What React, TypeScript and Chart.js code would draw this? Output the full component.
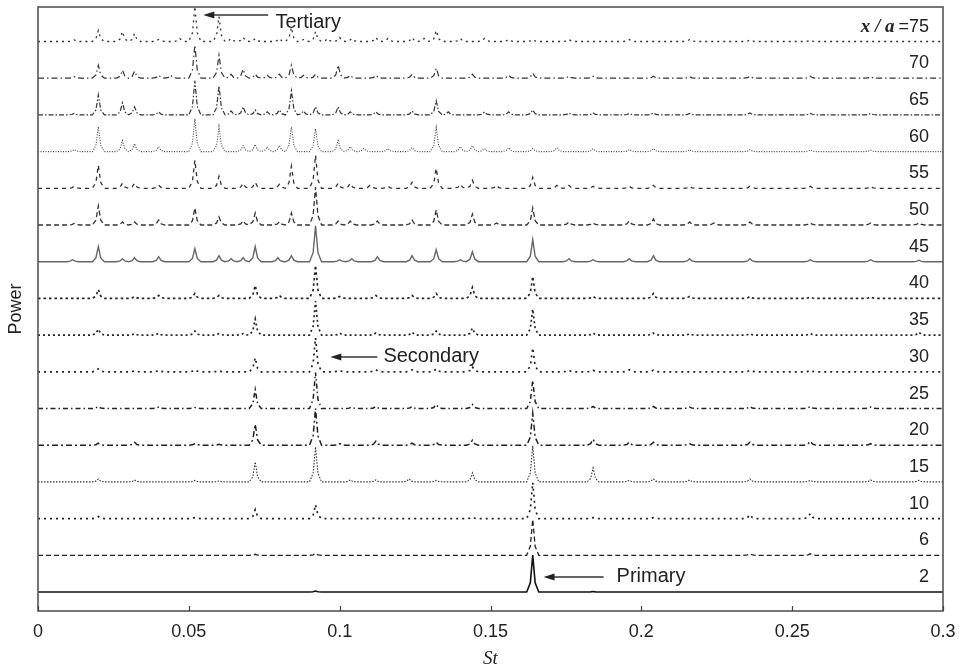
import React, { useEffect, useRef } from 'react';
import { Chart, registerables } from 'chart.js';

Chart.register(...registerables);

const WIDTH = 959;
const HEIGHT = 667;

// Station labels (x/a), bottom to top
const STATIONS = ['2', '6', '10', '15', '20', '25', '30', '35', '40', '45', '50', '55', '60', '65', '70', '75'];
const X_TICKS = [0, 0.05, 0.1, 0.15, 0.2, 0.25, 0.3];
const X_TICK_LABELS = ['0', '0.05', '0.1', '0.15', '0.2', '0.25', '0.3'];
const TRACE_STEP = 36.7; // vertical offset between spectra (power units)
const Y_MIN = -19;
const Y_MAX = 585;

// Spectral peaks for each station: [St, power above the trace's own baseline]
const PEAKS_X2 = [[0.092, 1], [0.164, 37], [0.184, 0.5]];
const PEAKS_X6 = [[0.072, 1], [0.092, 2], [0.164, 36], [0.236, 1.5], [0.256, 1.5]];
const PEAKS_X10 = [[0.020, 2], [0.052, 1], [0.072, 9], [0.092, 14], [0.112, 1], [0.144, 1.5], [0.164, 36], [0.184, 1], [0.204, 1], [0.236, 4], [0.256, 5]];
const PEAKS_X15 = [[0.020, 3], [0.032, 2], [0.052, 1.5], [0.060, 1], [0.072, 20], [0.092, 35], [0.1035, 2], [0.112, 2], [0.123, 3], [0.132, 1.5], [0.144, 9], [0.164, 36], [0.184, 14], [0.196, 1.5], [0.204, 3], [0.216, 2], [0.236, 3], [0.256, 1.5], [0.276, 2], [0.292, 1.5]];
const PEAKS_X20 = [[0.020, 2], [0.032, 3], [0.052, 1.5], [0.060, 1], [0.072, 21], [0.092, 37], [0.100, 1.5], [0.112, 4], [0.124, 2], [0.132, 3], [0.144, 5], [0.164, 32], [0.184, 6], [0.196, 3], [0.204, 3], [0.216, 1.5], [0.236, 3], [0.256, 4], [0.276, 1.5]];
const PEAKS_X25 = [[0.020, 2], [0.040, 1.5], [0.052, 1], [0.072, 19], [0.092, 36], [0.104, 1.5], [0.112, 2], [0.124, 2], [0.132, 4], [0.144, 4], [0.164, 28], [0.184, 2], [0.204, 2], [0.216, 1.5], [0.236, 2], [0.256, 2], [0.276, 1.5]];
const PEAKS_X30 = [[0.020, 3], [0.032, 1], [0.040, 1.5], [0.052, 2], [0.060, 1], [0.072, 14], [0.092, 34], [0.100, 1.5], [0.112, 2], [0.124, 2], [0.132, 3], [0.144, 5], [0.164, 24], [0.176, 1.5], [0.184, 1.5], [0.196, 2], [0.204, 1.5], [0.236, 1.5], [0.256, 1.5]];
const PEAKS_X35 = [[0.020, 6], [0.032, 1.5], [0.040, 2], [0.052, 4], [0.060, 1.5], [0.068, 1.5], [0.072, 16], [0.092, 34], [0.100, 2], [0.112, 2], [0.124, 3], [0.132, 4], [0.144, 7], [0.164, 26], [0.184, 2], [0.204, 2], [0.216, 1.5], [0.236, 1.5], [0.256, 1.5], [0.292, 3]];
const PEAKS_X40 = [[0.020, 9], [0.032, 2], [0.040, 3], [0.052, 5], [0.060, 3], [0.072, 13], [0.080, 3], [0.092, 33], [0.100, 2], [0.112, 3], [0.124, 3], [0.132, 5], [0.144, 11], [0.164, 22], [0.184, 2], [0.204, 5], [0.216, 2], [0.236, 2], [0.256, 1.5], [0.276, 1.5]];
const PEAKS_X45 = [[0.0115, 2], [0.020, 15], [0.028, 3], [0.032, 4], [0.040, 5], [0.052, 13], [0.060, 6], [0.064, 3], [0.068, 4], [0.072, 15], [0.0795, 4], [0.084, 6], [0.092, 36], [0.100, 2], [0.104, 3], [0.1125, 5], [0.124, 6], [0.132, 12], [0.140, 2], [0.144, 10], [0.164, 22], [0.176, 3], [0.184, 2], [0.196, 3], [0.204, 6], [0.216, 3], [0.236, 3], [0.256, 2], [0.276, 2], [0.292, 1.5]];
const PEAKS_X50 = [[0.012, 1.5], [0.020, 19], [0.028, 3], [0.032, 3], [0.040, 5], [0.052, 17], [0.060, 8], [0.068, 4], [0.072, 12], [0.080, 3], [0.084, 12], [0.092, 38], [0.0995, 4], [0.1035, 4], [0.1125, 4], [0.124, 5], [0.132, 15], [0.144, 11], [0.152, 2], [0.164, 17], [0.176, 3], [0.184, 2], [0.196, 4], [0.204, 6], [0.216, 3], [0.224, 2], [0.236, 3], [0.256, 2], [0.276, 2], [0.292, 2]];
const PEAKS_X55 = [[0.012, 2], [0.020, 23], [0.028, 5], [0.032, 5], [0.040, 3], [0.052, 28], [0.060, 12], [0.068, 5], [0.072, 6], [0.080, 4], [0.084, 22], [0.092, 33], [0.0995, 5], [0.1035, 5], [0.110, 3], [0.116, 2], [0.124, 6], [0.132, 20], [0.140, 4], [0.144, 8], [0.152, 3], [0.164, 11], [0.172, 3], [0.176, 3], [0.184, 2], [0.196, 2], [0.204, 3], [0.216, 2], [0.236, 2], [0.256, 2], [0.276, 2]];
const PEAKS_X60 = [[0.012, 2], [0.020, 25], [0.028, 11], [0.032, 8], [0.040, 5], [0.052, 33], [0.060, 25], [0.068, 6], [0.072, 7], [0.076, 5], [0.080, 6], [0.084, 25], [0.092, 23], [0.0995, 11], [0.1035, 5], [0.108, 3], [0.116, 3], [0.124, 4], [0.132, 24], [0.140, 5], [0.144, 6], [0.148, 3], [0.156, 4], [0.164, 3], [0.172, 4], [0.184, 3], [0.196, 2], [0.204, 3], [0.216, 2], [0.236, 2], [0.256, 1.5], [0.276, 1.5]];
const PEAKS_X65 = [[0.012, 1.5], [0.020, 20], [0.028, 12], [0.032, 8], [0.040, 3], [0.052, 34], [0.060, 29], [0.064, 4], [0.068, 8], [0.072, 5], [0.076, 3], [0.080, 5], [0.084, 24], [0.088, 4], [0.092, 8], [0.0995, 8], [0.1035, 3], [0.112, 3], [0.124, 4], [0.132, 14], [0.136, 3], [0.148, 3], [0.156, 3], [0.164, 5], [0.176, 2], [0.184, 2], [0.196, 1.5], [0.204, 2], [0.216, 1.5], [0.236, 2], [0.256, 1.5], [0.276, 1.5]];
const PEAKS_X70 = [[0.012, 1.5], [0.020, 13], [0.028, 8], [0.032, 7], [0.040, 3], [0.044, 3], [0.052, 33], [0.060, 23], [0.064, 4], [0.068, 9], [0.072, 4], [0.076, 3], [0.080, 4], [0.084, 13], [0.088, 3], [0.092, 4], [0.0995, 13], [0.1035, 3], [0.112, 3], [0.124, 4], [0.132, 10], [0.144, 4], [0.156, 3], [0.164, 5], [0.176, 2], [0.184, 2], [0.204, 2], [0.216, 1.5], [0.236, 2], [0.256, 2], [0.276, 1.5]];
const PEAKS_X75 = [[0.012, 1.5], [0.020, 11], [0.028, 10], [0.032, 8], [0.040, 2], [0.047, 3], [0.052, 35], [0.060, 25], [0.064, 3], [0.068, 4], [0.072, 3], [0.080, 3], [0.084, 14], [0.088, 2], [0.092, 10], [0.096, 3], [0.100, 4], [0.104, 3], [0.112, 4], [0.116, 3], [0.124, 4], [0.128, 3], [0.132, 11], [0.140, 3], [0.148, 3], [0.156, 2], [0.164, 2], [0.176, 2], [0.196, 2], [0.216, 2], [0.236, 1.5], [0.256, 1.5]];

const PEAKS = [PEAKS_X2, PEAKS_X6, PEAKS_X10, PEAKS_X15, PEAKS_X20, PEAKS_X25, PEAKS_X30, PEAKS_X35, PEAKS_X40, PEAKS_X45, PEAKS_X50, PEAKS_X55, PEAKS_X60, PEAKS_X65, PEAKS_X70, PEAKS_X75];

// Drawing template of a single spectral line: [dSt, fraction of peak height]
const PEAK_SHAPE = [[-0.002, 0], [-0.0008, 0.25], [0, 1], [0.0008, 0.25], [0.002, 0]];

// Line styles per station
const LINE_DASH = [[], [5, 3], [2, 4], [1.5, 1.5], [6, 3, 2, 3], [5, 3, 1.5, 3], [2, 4], [2, 3], [2.5, 3], [], [5, 3], [4, 4], [1, 1.5], [5, 2, 1.5, 2], [6, 3, 1.5, 3], [2, 4]];
const LINE_COLOR = ['#111', '#222', '#222', '#333', '#222', '#222', '#222', '#222', '#222', '#666', '#333', '#333', '#444', '#333', '#333', '#333'];
const LINE_WIDTH = [1.6, 1.3, 1.7, 1.1, 1.5, 1.5, 1.7, 1.7, 1.6, 1.4, 1.3, 1.3, 1.1, 1.2, 1.2, 1.3];

const ANNOTATIONS = [
  { text: 'Tertiary', tip: [0.0548, 577], tail: [0.0763, 577], textAt: [0.0787, 564] },
  { text: 'Secondary', tip: [0.0969, 235], tail: [0.1125, 235], textAt: [0.1145, 230] },
  { text: 'Primary', tip: [0.1676, 15], tail: [0.1875, 15], textAt: [0.1918, 10] },
];

const SANS = '"Liberation Sans", Arial, Helvetica, sans-serif';
const SERIF = '"Liberation Serif", "Times New Roman", serif';

function buildTrace(peaks: number[][], index: number) {
  const base = index * TRACE_STEP;
  const pts: { x: number; y: number }[] = [{ x: 0, y: base }];
  const sorted = [...peaks].sort((a, b) => a[0] - b[0]);
  for (const [st, h] of sorted) {
    for (const [dx, f] of PEAK_SHAPE) pts.push({ x: st + dx, y: base + h * f });
  }
  pts.push({ x: 0.3, y: base });
  pts.sort((a, b) => a.x - b.x);
  return pts;
}

const overlayPlugin = {
  id: 'overlay',
  afterDraw(chart: any) {
    const { ctx, chartArea: a } = chart;
    const xs = chart.scales.x;
    const ys = chart.scales.y;
    ctx.save();
    // frame
    ctx.strokeStyle = '#555';
    ctx.lineWidth = 1.6;
    ctx.setLineDash([]);
    ctx.strokeRect(a.left, a.top, a.right - a.left, a.bottom - a.top);
    // inward ticks
    ctx.lineWidth = 1.2;
    ctx.strokeStyle = '#444';
    for (const v of X_TICKS) {
      const px = Math.round(xs.getPixelForValue(v)) + 0.5;
      ctx.beginPath();
      ctx.moveTo(px, a.bottom);
      ctx.lineTo(px, a.bottom - 5);
      ctx.stroke();
    }
    // station labels
    ctx.fillStyle = '#222';
    ctx.textBaseline = 'alphabetic';
    const rightX = a.right - 14;
    STATIONS.forEach((s, i) => {
      const py = ys.getPixelForValue(i * TRACE_STEP + 10);
      ctx.textAlign = 'right';
      if (i === STATIONS.length - 1) {
        ctx.font = `18px ${SANS}`;
        const txt = '=' + s;
        ctx.fillText(txt, rightX, py);
        const w = ctx.measureText(txt).width;
        ctx.font = `italic 600 19px ${SERIF}`;
        ctx.fillText('x / a', rightX - w - 4, py);
      } else {
        ctx.font = `18px ${SANS}`;
        ctx.fillText(s, rightX, py);
      }
    });
    // annotations with arrows
    for (const an of ANNOTATIONS) {
      const tx = xs.getPixelForValue(an.tip[0]);
      const ty = ys.getPixelForValue(an.tip[1]);
      const lx = xs.getPixelForValue(an.tail[0]);
      ctx.strokeStyle = '#333';
      ctx.fillStyle = '#222';
      ctx.lineWidth = 1.3;
      ctx.beginPath();
      ctx.moveTo(lx, ty);
      ctx.lineTo(tx + 8, ty);
      ctx.stroke();
      ctx.beginPath();
      ctx.moveTo(tx, ty);
      ctx.lineTo(tx + 11, ty - 3.5);
      ctx.lineTo(tx + 11, ty + 3.5);
      ctx.closePath();
      ctx.fill();
      ctx.font = `20px ${SANS}`;
      ctx.textAlign = 'left';
      ctx.textBaseline = 'alphabetic';
      ctx.fillText(an.text, xs.getPixelForValue(an.textAt[0]), ys.getPixelForValue(an.textAt[1]));
    }
    // axis titles
    ctx.fillStyle = '#222';
    ctx.font = `italic 19px ${SERIF}`;
    ctx.textAlign = 'center';
    ctx.fillText('St', (a.left + a.right) / 2, 664);
    ctx.save();
    ctx.translate(21, (a.top + a.bottom) / 2);
    ctx.rotate(-Math.PI / 2);
    ctx.font = `18px ${SANS}`;
    ctx.textAlign = 'center';
    ctx.textBaseline = 'alphabetic';
    ctx.fillText('Power', 0, 0);
    ctx.restore();
    ctx.restore();
  },
};

export default function App() {
  const ref = useRef<HTMLCanvasElement>(null);
  useEffect(() => {
    if (!ref.current) return;
    const datasets = PEAKS.map((p, i) => ({
      label: 'x/a=' + STATIONS[i],
      data: buildTrace(p, i),
      borderColor: LINE_COLOR[i],
      borderWidth: LINE_WIDTH[i],
      borderDash: LINE_DASH[i],
      borderCapStyle: 'butt',
      pointRadius: 0,
      tension: 0,
      fill: false,
    }));
    const chart = new Chart(ref.current, {
      type: 'line',
      data: { datasets } as any,
      options: {
        animation: false,
        responsive: false,
        maintainAspectRatio: false,
        layout: { padding: { left: 38, right: 16, top: 7, bottom: 0 } },
        plugins: { legend: { display: false }, tooltip: { enabled: false } },
        scales: {
          x: {
            type: 'linear',
            min: 0,
            max: 0.3,
            afterBuildTicks: (s: any) => {
              s.ticks = X_TICKS.map((v) => ({ value: v }));
            },
            afterFit: (s: any) => {
              s.height = 56;
              s.paddingLeft = 0;
              s.paddingRight = 0;
            },
            ticks: {
              callback: (_v: any, idx: number) => X_TICK_LABELS[idx],
              font: { family: SANS, size: 18 },
              color: '#222',
              padding: 10,
              maxRotation: 0,
              autoSkip: false,
            },
            grid: { display: false, drawTicks: false },
            border: { display: false },
          },
          y: { type: 'linear', min: Y_MIN, max: Y_MAX, display: false },
        },
      } as any,
      plugins: [overlayPlugin],
    });
    return () => chart.destroy();
  }, []);
  return (
    <div style={{ position: 'absolute', left: 0, top: 0, width: WIDTH, height: HEIGHT, background: '#fff' }}>
      <canvas ref={ref} width={WIDTH} height={HEIGHT} style={{ display: 'block', width: WIDTH, height: HEIGHT }} />
    </div>
  );
}
